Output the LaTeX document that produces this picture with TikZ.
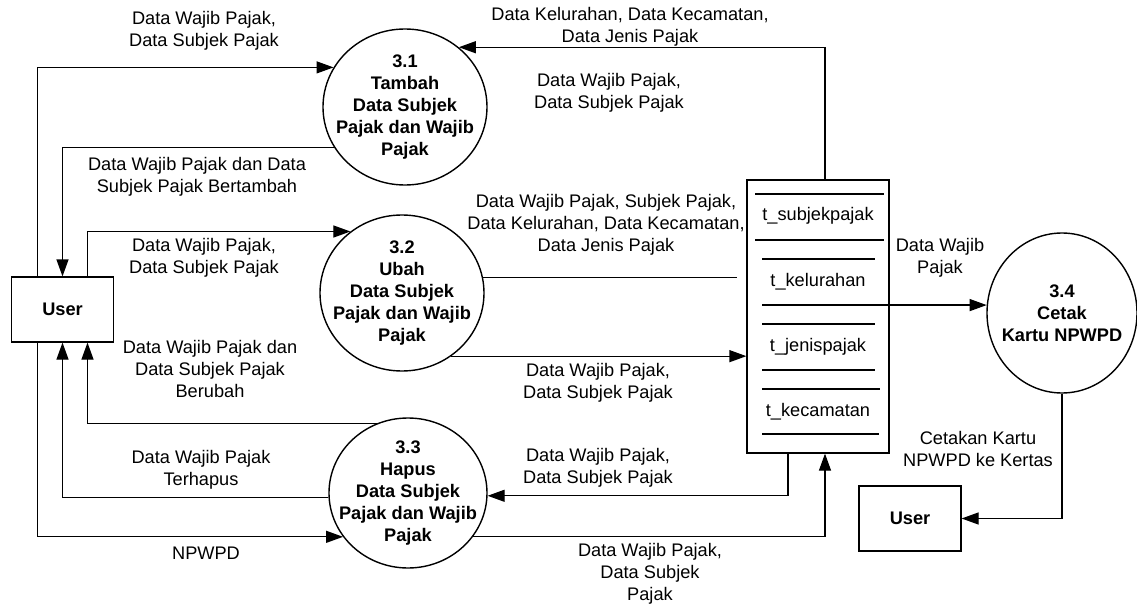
\documentclass[tikz,border=0pt]{standalone}
\usepackage{fontspec}
\setmainfont{Liberation Sans}
\usetikzlibrary{shapes.geometric, arrows.meta, positioning}

\tikzset{
  proc/.style={ellipse, draw=black, line width=0.7pt, minimum width=82pt, minimum height=78pt, inner sep=0pt},
  proctext/.style={font=\fontsize{9.1pt}{11pt}\selectfont\bfseries, align=center, inner sep=0pt},
  entity/.style={rectangle, draw=black, line width=0.6pt, minimum width=51pt, minimum height=32.5pt, font=\fontsize{9.1pt}{11pt}\selectfont\bfseries},
  datastore/.style={rectangle, draw=black, line width=0.6pt, minimum width=71pt, minimum height=136.5pt},
  flowtext/.style={font=\fontsize{9.1pt}{11pt}\selectfont, align=center, inner sep=0pt},
  flow/.style={draw=black, line width=0.6pt, -{Triangle[length=8.5pt,width=6pt]}},
  plain/.style={draw=black, line width=0.6pt},
}

\begin{document}
\begin{tikzpicture}[x=0.5pt, y=-0.5pt]
            \useasboundingbox (0,0) rectangle (1137,605);

            \node[entity] (u1) at (62.5,309.5) {User};
            \node[entity] (u2) at (910,518.5) {User};
            \node[proc, label={[proctext]center:{3.1\\Tambah\\Data Subjek\\Pajak dan Wajib\\Pajak}}] (p31) at (405,107) {};
            \node[proc, label={[proctext]center:{3.2\\Ubah\\Data Subjek\\Pajak dan Wajib\\Pajak}}] (p32) at (402,293) {};
            \node[proc, minimum width=79pt, minimum height=75pt, label={[proctext]center:{3.3\\Hapus\\Data Subjek\\Pajak dan Wajib\\Pajak}}] (p33) at (408,493) {};
            \node[proc, minimum width=75pt, minimum height=80pt, label={[proctext]center:{3.4\\Cetak\\Kartu NPWPD}}] (p34) at (1062,313) {};
            \node[datastore] (store) at (818,316.5) {};

            % tables in the store
            \node[flowtext] (s1) at (818,216) {t\_subjekpajak};
            \node[flowtext] (s2) at (818,282) {t\_kelurahan};
            \node[flowtext] (s3) at (818,347) {t\_jenispajak};
            \node[flowtext] (s4) at (818,412) {t\_kecamatan};
            \draw[plain] (755,194) -- (884,194);
            \draw[plain] (755,240) -- (884,240);
            \draw[plain] (762,259) -- (875,259);
            \draw[plain] (762,305) -- (889,305);
            \draw[plain] (762,324) -- (875,324);
            \draw[plain] (762,370) -- (875,370);
            \draw[plain] (762,389) -- (880,389);
            \draw[plain] (762,434) -- (879,434);

            % flows
            \draw[flow] ([xshift=-12.5pt]u1.north) |- (p31.151);
            \draw[flow] (p31.210) -| (u1);
            \draw[flow] ([xshift=12.5pt]u1.north) |- (p32.130);
            \draw[flow] (p33.114) -| ([xshift=12.5pt]u1.south);
            \draw[flow] (p33.183) -| (u1);
            \draw[flow] ([xshift=-12.5pt]u1.south) |- (p33.214);
            \draw[flow] ([xshift=3.5pt]store.north) |- (p31.48);
            \coordinate (e32) at (737,277);
            \draw[plain] (p32.11) -- (e32 |- p32.11);
            \draw[flow] (p32.-52) -- (p32.-52 -| store.west);
            \draw[flow] ([xshift=-15pt]store.south) |- (p33.-2);
            \draw[flow] (p33.-34) -| ([xshift=3.5pt]store.south);
            \draw[flow] (store.east |- p34.174) -- (p34.174);
            \draw[flow] (p34.south) |- (u2);

            % labels
            \node[flowtext] (l1) at (204,31) {Data Wajib Pajak,\\Data Subjek Pajak};
            \node[flowtext] (l2) at (197,177) {Data Wajib Pajak dan Data\\Subjek Pajak Bertambah};
            \node[flowtext] (l3) at (630,27) {Data Kelurahan, Data Kecamatan,\\Data Jenis Pajak};
            \node[flowtext] (l4) at (609,93) {Data Wajib Pajak,\\Data Subjek Pajak};
            \node[flowtext] (l5) at (204,258) {Data Wajib Pajak,\\Data Subjek Pajak};
            \node[flowtext] (l6) at (210,369) {Data Wajib Pajak dan\\Data Subjek Pajak\\Berubah};
            \node[flowtext] (l7) at (606,225) {Data Wajib Pajak, Subjek Pajak,\\Data Kelurahan, Data Kecamatan,\\Data Jenis Pajak};
            \node[flowtext] (l8) at (598,383) {Data Wajib Pajak,\\Data Subjek Pajak};
            \node[flowtext] (l9) at (940,258) {Data Wajib\\Pajak};
            \node[flowtext] (l10) at (201,470) {Data Wajib Pajak\\Terhapus};
            \node[flowtext] (l11) at (206,553) {NPWPD};
            \node[flowtext] (l12) at (598,468) {Data Wajib Pajak,\\Data Subjek Pajak};
            \node[flowtext] (l13) at (650,574) {Data Wajib Pajak,\\Data Subjek\\Pajak};
            \node[flowtext] (l14) at (978,449) {Cetakan Kartu\\NPWPD ke Kertas};
        \end{tikzpicture}
\end{document}
